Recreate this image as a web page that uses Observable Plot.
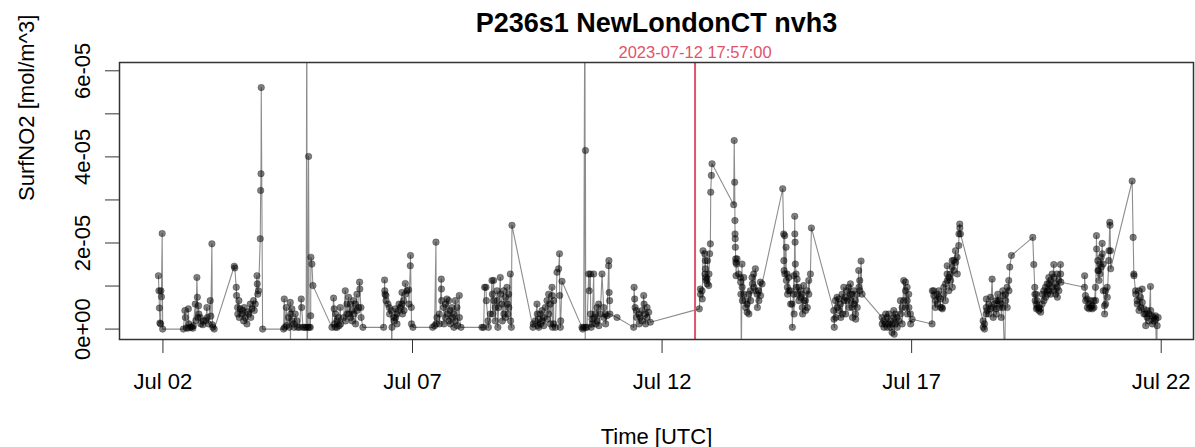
<!DOCTYPE html>
<html><head><meta charset="utf-8">
<script src="https://cdn.jsdelivr.net/npm/d3@7"></script>
<script src="https://cdn.jsdelivr.net/npm/@observablehq/plot@0.6"></script>
<style>html,body{margin:0;padding:0;background:#fff;}</style>
</head><body><div id="chart"></div>
<script>
const chartTitle = "P236s1 NewLondonCT nvh3";
const xLabel = "Time [UTC]";
const yLabel = "SurfNO2 [mol/m^3]";
const markerLabel = "2023-07-12 17:57:00";
const markerDay = 12.661;           // day of July (UTC) where the red marker sits
const xTickDays = [2, 7, 12, 17, 22];
const xDomainDays = [1.13, 22.647];
const yTickValues = [0, 1e-5, 2e-5, 3e-5, 4e-5, 5e-5, 6e-5];
const yTickLabels = ["0e+00", "", "2e-05", "", "4e-05", "", "6e-05"];
const yDomain = [-0.242e-5, 6.193e-5];

// [day of July (UTC, fractional), SurfNO2 in units of 1e-5 mol/m^3]
const week1 = [
[1.91,1.24],[1.92,0.89],[1.93,0.49],[1.94,0.14],[1.955,0.12],[1.96,0.89],[1.97,0.75],[1.985,2.22],[1.995,0],
[2.41,0],[2.44,0.43],[2.45,0.27],[2.47,0.03],[2.5,0.02],[2.51,0.47],[2.52,0.12],[2.55,0.04],[2.58,0.05],[2.6,0.02],[2.61,0.08],[2.647,0.58],[2.66,0.2],[2.681,1.2],[2.69,0.74],[2.70,0.27],[2.714,0.54],[2.72,0.35],[2.747,0.27],[2.76,0.12],[2.8,0.1],[2.814,0.19],[2.86,0.2],[2.881,0.5],[2.89,0.27],[2.914,0.12],[2.948,0.66],[2.96,0.3],[2.981,1.98],[2.99,0.1],[3.0,0.04],[3.028,0],
[3.429,1.46],[3.44,1.42],[3.469,0.97],[3.475,0.78],[3.496,0.5],[3.50,0.35],[3.522,0.66],[3.53,0.27],[3.549,0.47],[3.582,0.35],[3.6,0.43],[3.616,0.19],[3.63,0.5],[3.649,0.27],[3.683,0.12],[3.7,0.4],[3.716,0.35],[3.749,0.58],[3.76,0.27],[3.783,0.47],[3.816,0.66],[3.83,0.43],[3.85,0.58],[3.883,1.24],[3.89,1.05],[3.9,0.81],[3.916,0.89],[3.95,2.1],[3.958,3.22],[3.965,3.61],[3.97,5.61],[3.997,0],
[4.417,0],[4.431,0.70],[4.44,0.04],[4.471,0.5],[4.48,0.08],[4.518,0.27],[4.53,0.04],[4.551,0.62],[4.555,-0.6],[4.56,0.35],[4.584,0.47],[4.59,0.19],[4.618,0.12],[4.63,0.04],[4.651,0.35],[4.685,0.19],[4.7,0.04],[4.738,0.04],[4.771,0.70],[4.78,0.5],[4.805,0.04],[4.838,0.04],[4.87,0.04],[4.883,9],[4.888,-0.8],[4.9,0.04],[4.918,4.01],[4.93,0.04],[4.952,0.04],[4.96,0.31],[4.965,1.67],[4.985,1.51],[5.005,1.01],
[5.386,0.04],[5.419,0.72],[5.43,0.47],[5.44,0.12],[5.453,0.04],[5.46,0.35],[5.486,0.19],[5.49,0.04],[5.52,0.27],[5.53,0.08],[5.553,0.5],[5.56,0.12],[5.62,0.27],[5.653,0.89],[5.66,0.19],[5.687,0.58],[5.69,0.35],[5.72,0.74],[5.73,0.35],[5.753,0.58],[5.76,0.27],[5.787,0.43],[5.79,0.19],[5.82,0.66],[5.83,0.35],[5.854,0.58],[5.86,0.12],[5.887,0.81],[5.89,0.43],[5.92,0.5],[5.94,1.09],[5.945,0.93],[5.967,0.5],[5.97,0.27],[6.007,0.04],
[6.421,0.04],[6.441,1.14],[6.445,0.89],[6.45,0.81],[6.468,0.78],[6.47,0.66],[6.508,0.58],[6.535,0.5],[6.54,0.35],[6.575,0.43],[6.585,-0.6],[6.59,0.04],[6.622,0.27],[6.63,0.19],[6.655,0.47],[6.66,0.27],[6.689,0.35],[6.69,0.12],[6.722,0.43],[6.73,0.58],[6.755,0.5],[6.789,0.85],[6.79,0.58],[6.8,0.35],[6.822,0.66],[6.83,0.43],[6.856,1.06],[6.86,0.81],[6.889,0.89],[6.922,0.91],[6.93,0.58],[6.956,1.47],[6.96,1.71],[6.976,0.5],[6.98,0.12],[7.009,0.04]
];
const week2 = [
[7.403,0.04],[7.443,0.08],[7.47,2.02],[7.475,0.12],[7.49,0.27],[7.537,0.35],[7.54,0.12],[7.577,1.16],[7.58,0.93],[7.585,0.66],[7.624,0.5],[7.63,0.12],[7.657,0.58],[7.66,0.27],[7.69,0.70],[7.7,0.35],[7.724,0.66],[7.73,0.19],[7.757,0.43],[7.76,0.12],[7.791,0.5],[7.8,0.27],[7.824,0.35],[7.83,0.04],[7.858,0.66],[7.86,0.19],[7.891,0.5],[7.9,0.08],[7.938,0.78],[7.94,0.27],[7.971,0.04],
[8.392,0.04],[8.425,0.04],[8.445,0.97],[8.472,0.97],[8.48,0.66],[8.512,0.19],[8.52,0.04],[8.559,0.35],[8.592,1.13],[8.6,0.81],[8.61,0.35],[8.626,1.13],[8.63,0.66],[8.659,0.5],[8.66,0.19],[8.693,0.89],[8.7,0.66],[8.71,0.04],[8.726,0.5],[8.759,1.2],[8.765,0.81],[8.793,0.58],[8.8,0.19],[8.826,0.89],[8.83,0.35],[8.86,0.74],[8.865,0.27],[8.893,0.97],[8.9,0.58],[8.91,0.35],[8.926,0.81],[8.93,0.5],[8.96,1.28],[8.965,0.19],[8.98,0.04],[8.993,2.41],
[9.414,0.04],[9.42,0.12],[9.461,0.19],[9.494,0.58],[9.5,0.35],[9.51,0.08],[9.528,0.23],[9.53,0.04],[9.561,0.12],[9.565,0.35],[9.594,0.43],[9.6,0.19],[9.628,0.27],[9.63,0.08],[9.661,0.5],[9.695,0.66],[9.7,0.23],[9.728,0.81],[9.73,0.35],[9.761,0.58],[9.765,0.12],[9.795,0.97],[9.8,0.78],[9.805,0.04],[9.828,0.66],[9.83,0.12],[9.862,0.04],[9.895,1.32],[9.928,1.40],[9.945,1.75],[9.95,0.78],[9.962,0.04],[9.97,0.19],[9.995,1.11],
[10.396,0.04],[10.41,0.0],[10.43,0.04],[10.455,9],[10.46,-0.8],[10.465,4.15],[10.47,0.04],[10.496,0.04],[10.53,1.28],[10.54,0.89],[10.563,1.28],[10.57,0.35],[10.58,0.04],[10.596,0.23],[10.6,0.12],[10.63,1.28],[10.64,0.27],[10.663,0.35],[10.67,0.12],[10.697,0.5],[10.7,0.19],[10.73,0.58],[10.735,0.08],[10.763,0.35],[10.797,1.28],[10.83,0.5],[10.835,0.27],[10.864,0.35],[10.87,0.12],[10.897,0.31],[10.93,1.47],[10.935,1.59],[10.94,0.85],[10.95,0.66],[10.955,0.35],
[11.097,0.27],[11.431,0.04],[11.44,0.97],[11.451,0.70],[11.46,0.5],[11.485,0.43],[11.49,0.27],[11.532,0.35],[11.54,0.12],[11.565,0.27],[11.598,0.43],[11.6,0.19],[11.632,0.78],[11.64,0.58],[11.665,0.35],[11.67,0.12],[11.699,0.5],[11.7,0.27],[11.732,0.39],[11.765,0.16],
[12.747,0.47],[12.767,0.93],[12.77,0.81],[12.801,0.89],[12.805,0.70],[12.821,1.82],[12.854,1.75],[12.86,1.28],[12.868,1.59],[12.87,1.40],[12.875,1.2],[12.88,1.13],[12.901,1.16],[12.905,1.05],[12.91,1.59],[12.934,1.01],[12.94,1.28],[12.954,1.75],[12.968,1.98],[12.975,3.18],[12.988,3.57],[13.001,3.84],
[13.435,2.89],[13.445,4.38],[13.455,3.41],[13.46,2.52],[13.462,2.21],[13.465,2.10],[13.469,1.90],[13.475,1.63],[13.48,1.55],[13.482,1.24],[13.49,1.51],[13.502,1.63],[13.536,1.28],[13.569,1.2],[13.575,1.09],[13.58,0.81],[13.589,-0.8],[13.602,1.51],[13.605,0.97],[13.61,0.66],[13.636,1.2],[13.64,0.81],[13.669,0.66],[13.675,0.5],[13.703,0.58],[13.705,0.39],[13.736,0.81],[13.74,0.35],[13.769,0.89],[13.775,0.66],[13.803,1.2],[13.81,1.05],[13.836,1.28],[13.84,0.97],[13.87,1.40],[13.875,0.89],[13.903,0.81],[13.91,0.5],[13.936,0.89],[13.94,0.66],[13.97,1.09],[13.975,0.78],[14.003,1.05]
];
const week3 = [
[14.417,3.26],[14.437,2.21],[14.44,1.59],[14.445,1.36],[14.457,2.17],[14.46,1.28],[14.484,1.90],[14.49,1.13],[14.504,1.28],[14.51,0.97],[14.515,0.81],[14.538,1.2],[14.54,0.89],[14.571,0.89],[14.575,0.58],[14.604,0.58],[14.61,0.04],[14.638,1.24],[14.64,0.81],[14.645,0.35],[14.658,2.62],[14.66,2.21],[14.665,2.02],[14.67,1.51],[14.685,1.28],[14.69,0.97],[14.705,1.16],[14.71,0.81],[14.738,0.97],[14.74,0.66],[14.771,0.89],[14.775,0.74],[14.805,0.81],[14.81,0.5],[14.815,0.35],[14.838,1.01],[14.84,0.66],[14.872,0.66],[14.875,0.43],[14.905,0.89],[14.91,0.5],[14.938,1.13],[14.94,0.81],[14.972,1.28],[14.992,2.35],
[15.439,0.43],[15.445,0.23],[15.45,0.04],[15.473,0.66],[15.48,0.27],[15.506,0.74],[15.51,0.5],[15.539,0.70],[15.545,0.43],[15.573,0.58],[15.58,0.27],[15.606,0.81],[15.61,0.35],[15.64,0.97],[15.645,0.66],[15.673,0.74],[15.68,0.35],[15.707,0.89],[15.71,0.66],[15.74,0.97],[15.745,0.5],[15.773,1.05],[15.775,0.81],[15.78,0.66],[15.807,0.81],[15.81,0.5],[15.815,0.27],[15.84,0.89],[15.845,0.58],[15.874,0.66],[15.877,0.35],[15.88,0.23],[15.907,0.81],[15.91,0.5],[15.94,1.36],[15.945,0.97],[15.96,1.13],[15.965,0.89],[15.987,1.58],[16.007,0.81],
[16.408,0.27],[16.41,0.12],[16.441,0.19],[16.445,0.04],[16.475,0.12],[16.48,0.35],[16.508,0.27],[16.51,0.04],[16.542,0.35],[16.545,0.12],[16.575,0.04],[16.58,0.19],[16.608,-0.08],[16.612,0.12],[16.642,0.43],[16.645,0.27],[16.65,-0.12],[16.675,0.35],[16.68,0.12],[16.709,0.27],[16.71,0.04],[16.742,0.19],[16.775,0.66],[16.78,0.35],[16.809,0.5],[16.81,0.12],[16.842,1.13],[16.845,0.66],[16.876,1.09],[16.878,0.89],[16.88,0.5],[16.909,0.97],[16.912,0.66],[16.915,0.35],[16.942,0.81],[16.945,0.5],[16.976,0.35],[16.98,0.12],[17.009,0.23],
[17.41,0.12],[17.415,0.89],[17.443,0.89],[17.445,0.78],[17.477,0.5],[17.48,0.66],[17.51,0.81],[17.515,0.58],[17.544,0.89],[17.545,0.74],[17.577,0.70],[17.58,0.5],[17.61,0.50],[17.615,0.47],[17.644,0.81],[17.645,0.97],[17.677,0.66],[17.68,1.05],[17.71,1.28],[17.712,1.47],[17.715,1.13],[17.744,1.2],[17.745,0.89],[17.777,1.28],[17.78,1.13],[17.811,1.44],[17.812,1.59],[17.815,0.97],[17.844,1.59],[17.845,1.36],[17.878,1.82],[17.88,1.55],[17.911,1.67],[17.915,1.28],[17.944,1.94],[17.948,2.21],[17.964,2.44],[17.966,2.35],[17.978,2.21],
[18.432,0.19],[18.435,0.04],[18.459,0.12],[18.46,0.0],[18.492,0.35],[18.495,0.5],[18.497,0.70],[18.512,0.43],[18.546,0.58],[18.55,0.35],[18.579,0.74],[18.582,0.47],[18.612,1.16],[18.632,0.5],[18.635,0.27],[18.659,0.58],[18.693,0.66],[18.695,0.47],[18.697,0.35],[18.726,0.81],[18.73,0.66],[18.759,0.66],[18.762,0.5],[18.793,0.58],[18.795,0.27],[18.826,0.89],[18.828,0.78],[18.83,0.5],[18.866,-0.8],[18.88,0.81],[18.885,0.66],[18.913,0.97],[18.915,0.5],[18.946,1.13],[18.95,0.89],[18.966,1.44],[19.0,1.71],
[19.427,2.13],[19.447,1.50],[19.467,0.97],[19.47,0.81],[19.475,0.66],[19.494,0.81],[19.497,0.58],[19.5,0.47],[19.514,0.66],[19.517,0.5],[19.548,0.50],[19.55,0.43],[19.581,0.47],[19.585,0.39],[19.614,0.58],[19.617,0.81],[19.648,0.89],[19.65,0.66],[19.681,0.97],[19.685,0.74],[19.715,1.05],[19.717,0.89],[19.72,0.81],[19.748,1.2],[19.75,1.05],[19.752,0.89],[19.781,1.13],[19.785,0.81],[19.815,1.28],[19.818,0.97],[19.848,1.50],[19.85,1.2],[19.852,0.89],[19.882,1.05],[19.885,0.81],[19.915,1.28],[19.917,0.97],[19.92,0.74],[19.948,1.13],[19.95,0.89],[19.982,1.50],[19.985,1.28],[19.99,1.09],
[20.463,0.97],[20.466,1.24],[20.483,0.78],[20.486,0.66],[20.516,0.70],[20.52,0.5],[20.55,0.58],[20.553,0.47],[20.583,0.66],[20.586,0.5],[20.616,0.54],[20.62,0.47],[20.65,0.66],[20.653,0.5],[20.683,0.97],[20.686,0.66],[20.703,2.17],[20.706,1.86],[20.73,1.59],[20.733,1.36],[20.75,1.36],[20.753,1.13],[20.77,1.51],[20.773,1.28],[20.797,1.67],[20.8,1.44],[20.817,1.99],[20.82,1.75],[20.837,1.51],[20.84,0.89],[20.864,0.54],[20.867,0.35],[20.884,0.89],[20.887,0.58],[20.917,0.97],[20.92,0.74],[20.95,1.59],[20.953,1.82],[20.97,2.48],[20.975,2.41],[20.984,1.82],[20.987,1.40],
[21.418,3.44],[21.438,2.13],[21.451,1.28],[21.455,1.24],[21.485,0.89],[21.49,0.81],[21.518,0.66],[21.52,0.58],[21.552,0.89],[21.555,0.43],[21.585,0.74],[21.59,0.5],[21.618,0.93],[21.62,0.62],[21.652,0.47],[21.655,0.35],[21.685,0.35],[21.69,0.08],[21.719,0.43],[21.72,0.27],[21.752,0.35],[21.755,0.19],[21.785,0.99],[21.79,0.43],[21.819,0.31],[21.822,0.12],[21.852,0.27],[21.855,0.19],[21.886,0.31],[21.89,0.23],[21.906,-0.8],[21.919,0.08],[21.939,0.27]
];

const JUL1 = Date.UTC(2023, 6, 1);
const toDate = d => new Date(JUL1 + (d - 1) * 864e5);
const data = [...week1, ...week2, ...week3].map(([d, v]) => ({time: toDate(d), no2: v * 1e-5}));
const markerDate = toDate(markerDay);
const font = "'Liberation Sans', Arial, Helvetica, sans-serif";

const chart = Plot.plot({
  width: 1195, height: 447,
  marginLeft: 119, marginRight: 2, marginTop: 62, marginBottom: 108,
  style: {fontFamily: font, fontSize: "22px", color: "#000", background: "#fff", overflow: "visible"},
  x: {type: "utc", domain: xDomainDays.map(toDate)},
  y: {domain: yDomain},
  marks: [
    Plot.line(data, {x: "time", y: "no2", stroke: "#000", strokeOpacity: 0.45, strokeWidth: 1.1, clip: true}),
    Plot.dot(data, {x: "time", y: "no2", r: 3.3, fill: "#000", fillOpacity: 0.5, stroke: "#000", strokeOpacity: 0.3, strokeWidth: 0.8, clip: true}),
    Plot.ruleX([markerDate], {stroke: "#DF536B", strokeWidth: 2}),
    Plot.text([markerLabel], {x: () => markerDate, frameAnchor: "top", dy: -5, lineAnchor: "bottom", fill: "#DF536B", fontSize: 16.5}),
    Plot.frame({stroke: "#333", strokeWidth: 1.5}),
    Plot.axisX({ticks: xTickDays.map(toDate), tickFormat: d3.utcFormat("%b %d"), tickSize: 14, tickPadding: 20, fontSize: 22, stroke: "#333", label: null}),
    Plot.axisY({ticks: yTickValues, tickSize: 14, tickFormat: () => "", stroke: "#333", label: null}),
    Plot.text(yTickValues.map((v, i) => ({v, label: yTickLabels[i]})).filter(d => d.label), {y: "v", text: "label", frameAnchor: "left", dx: -37, rotate: -90, textAnchor: "middle", lineAnchor: "middle", fontSize: 22}),
    Plot.text([xLabel], {frameAnchor: "bottom", dy: 97, lineAnchor: "middle", fontSize: 22}),
    Plot.text([yLabel], {frameAnchor: "left", dx: -93, rotate: -90, lineAnchor: "middle", fontSize: 22}),
    Plot.text([chartTitle], {frameAnchor: "top", dy: -31, lineAnchor: "bottom", fontSize: 27, fontWeight: "bold"})
  ]
});
document.getElementById("chart").appendChild(chart);
</script>
</body></html>
